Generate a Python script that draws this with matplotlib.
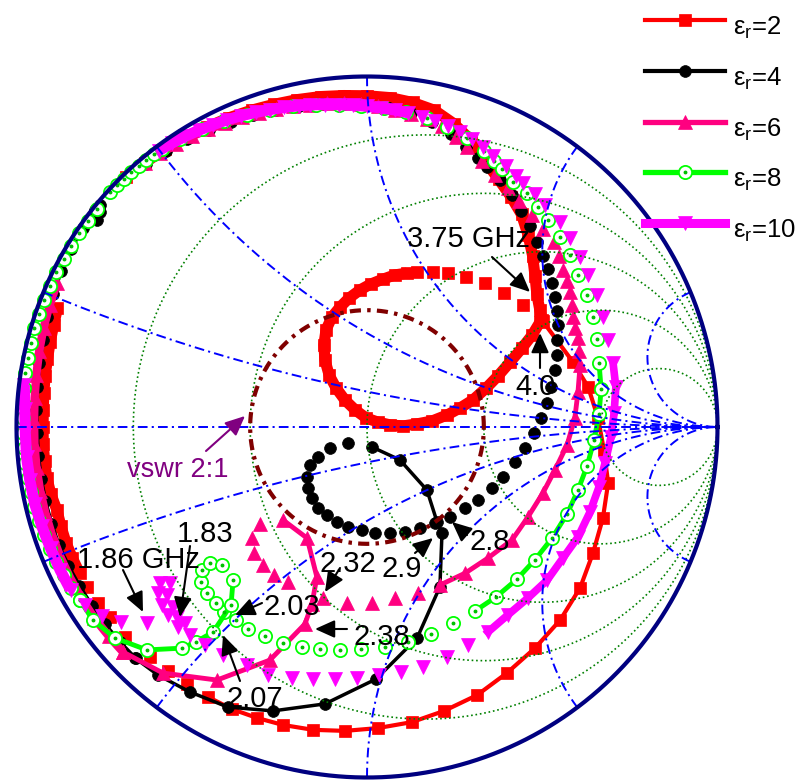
import numpy as np
import matplotlib
matplotlib.use('Agg')
import matplotlib.pyplot as plt
from matplotlib.lines import Line2D

plt.rcParams['font.family'] = ['Liberation Sans', 'DejaVu Sans']
plt.rcParams['mathtext.fontset'] = 'custom'
plt.rcParams['mathtext.rm'] = 'Liberation Sans'
plt.rcParams['mathtext.it'] = 'Liberation Sans'
plt.rcParams['lines.scale_dashes'] = False

# ---------------- data (reflection coefficient) ----------------
# eps_r = 2 (red)
red_top_ang = [134,130,126,122,118,114,110,106,102,98,94,90,86,82,78,74,70,66,62,58,54,50,46,42,38,34,31]
red_top_mag = [0.99,0.985,0.98,0.975,0.97,0.966,0.962,0.958,0.955,0.952,0.948,0.945,0.942,0.935,0.924,0.90,0.87,0.83,0.80,0.775,0.75,0.715,0.68,0.645,0.615,0.595,0.585]
red_loop_re = [0.494,0.471,0.442,0.408,0.374,0.340,0.302,0.265,0.228,0.185,0.143,0.103,0.066,0.031,-0.003,-0.034,-0.063,-0.088,-0.108,-0.120,-0.123,-0.117,-0.100,-0.077,-0.051,-0.020,0.011,0.046,0.080,0.114]
red_loop_im = [0.300,0.262,0.225,0.185,0.146,0.111,0.077,0.054,0.034,0.017,0.009,0.003,0.006,0.014,0.026,0.049,0.077,0.111,0.148,0.191,0.234,0.277,0.314,0.342,0.368,0.391,0.408,0.422,0.434,0.439]
red_sp_re = [0.143,0.188,0.231,0.282,0.337,0.391,0.445]
red_sp_im = [0.442,0.442,0.439,0.428,0.411,0.382,0.348]
red_line_re = [0.499,0.588,0.631,0.659,0.676,0.688,0.673,0.645,0.608,0.551,0.479,0.399,0.314,0.220,0.128,0.031,-0.063,-0.154,-0.240,-0.314,-0.385,-0.454]
red_line_im = [0.305,0.185,0.114,0.026,-0.066,-0.160,-0.260,-0.359,-0.459,-0.551,-0.631,-0.702,-0.765,-0.810,-0.842,-0.859,-0.867,-0.864,-0.850,-0.830,-0.805,-0.770]
red_mid_re = [-0.514,-0.568,-0.619,-0.690,-0.733,-0.767,-0.799]
red_mid_im = [-0.733,-0.696,-0.656,-0.599,-0.542,-0.502,-0.456]
red_left_ang = [207,204,201,198,195,192,189,186,183,180,177,174,171,168,165,162,159]
red_left_mag = [0.92,0.92,0.92,0.918,0.916,0.922,0.925,0.925,0.925,0.924,0.925,0.927,0.93,0.932,0.936,0.94,0.946]

# eps_r = 4 (black)
black_top_ang = [130,126,122,118,114,110,106,102,98,94,90,86,82,78,74,70.5,67.5]
black_top_mag = [0.98,0.975,0.968,0.96,0.953,0.947,0.94,0.935,0.93,0.925,0.92,0.913,0.905,0.89,0.87,0.848,0.83]
black_right_re = [0.342,0.379,0.414,0.439,0.465,0.485,0.502,0.516,0.528,0.536,0.542,0.545,0.542,0.542,0.536,0.525,0.514,0.496,0.476,0.451,0.422,0.388,0.357,0.317,0.280,0.237,0.194,0.151,0.108,0.066,0.023,-0.014,-0.054,-0.086,-0.114,-0.140,-0.157,-0.168,-0.171,-0.163,-0.140,-0.106,-0.054]
black_right_im = [0.742,0.705,0.662,0.616,0.573,0.528,0.488,0.451,0.411,0.371,0.331,0.291,0.248,0.205,0.163,0.114,0.068,0.026,-0.017,-0.060,-0.100,-0.143,-0.174,-0.208,-0.231,-0.257,-0.274,-0.288,-0.300,-0.302,-0.302,-0.294,-0.285,-0.271,-0.251,-0.231,-0.203,-0.174,-0.143,-0.108,-0.086,-0.060,-0.046]
black_line_re = [0.014,0.094,0.171,0.200,0.214,0.208,0.143,0.026,-0.120,-0.268,-0.397,-0.505,-0.596,-0.662]
black_line_im = [-0.057,-0.094,-0.180,-0.271,-0.302,-0.456,-0.602,-0.719,-0.790,-0.810,-0.799,-0.756,-0.708,-0.659]
black_left_ang = [225,221,217,213,209,205,201,197,193,189,185,181,177,173,169,165,161,157,153,149,145,141.5,140.3,141.2,142.5]
black_left_mag = [0.934,0.935,0.936,0.936,0.938,0.94,0.942,0.942,0.942,0.942,0.942,0.942,0.945,0.948,0.952,0.958,0.965,0.972,0.98,0.986,0.99,0.993,0.99,0.978,0.972]

# eps_r = 6 (pink)
pink_top_ang = [130,127,124,121,118,115,112,109,106,103,100]
pink_top_mag = [0.985,0.98,0.975,0.97,0.964,0.958,0.953,0.948,0.944,0.939,0.934]
pink_mid_ang = [97,94,91,88,85,82,79,76,73,70.3,66.5,63.1]
pink_mid_mag = [0.93,0.926,0.921,0.915,0.909,0.903,0.896,0.885,0.866,0.848,0.826,0.806]
pink_right_ang = [59.5,56,52.1,48.4,44.8,41.7,38.7,36.1,33.6,30.8,28.1,25.5,22.9,19.6]
pink_right_mag = [0.792,0.778,0.766,0.757,0.75,0.733,0.717,0.706,0.696,0.681,0.666,0.659,0.653,0.643]
pink_line_re = [0.608,0.602,0.593,0.571,0.536,0.502,0.459,0.414,0.345,0.280,0.208]
pink_line_im = [0.177,0.100,0.026,-0.051,-0.123,-0.188,-0.257,-0.322,-0.374,-0.417,-0.451]
pink_loop_re = [0.146,0.080,0.014,-0.057,-0.126,-0.225,-0.265,-0.297,-0.322,-0.328,-0.305]
pink_loop_im = [-0.474,-0.488,-0.502,-0.502,-0.488,-0.442,-0.422,-0.394,-0.359,-0.317,-0.277]
pink_line2_re = [-0.240,-0.171,-0.143,-0.157,-0.177,-0.277,-0.428,-0.582,-0.696]
pink_line2_im = [-0.265,-0.317,-0.428,-0.505,-0.562,-0.665,-0.722,-0.702,-0.642]
pink_left_ang = [222.7,219,215,211,207,203,199,195,191,187,183,179,175,171,167,163,159,155]
pink_left_mag = [0.947,0.948,0.95,0.95,0.95,0.95,0.95,0.95,0.95,0.95,0.95,0.95,0.952,0.955,0.96,0.965,0.97,0.975]

# eps_r = 8 (green)
green_top_ang = [137.6,136,134.4,132.8,131.2,129.6,128,126.4,123,119,115,111,107,103,99,95,91,87,83,79,75,71,67,64.5,62.3,59.2,55.6,52.1,48.8,44.6,40.3,35.8,31,26,20.9]
green_top_mag = [0.993,0.992,0.991,0.99,0.989,0.988,0.987,0.985,0.98,0.972,0.964,0.955,0.947,0.939,0.93,0.923,0.917,0.91,0.905,0.897,0.886,0.872,0.855,0.84,0.83,0.814,0.809,0.795,0.785,0.773,0.759,0.742,0.732,0.717,0.703]
green_line_re = [0.662,0.668,0.662,0.648,0.628,0.602,0.571,0.528,0.479,0.428,0.368,0.308]
green_line_im = [0.183,0.108,0.037,-0.037,-0.111,-0.180,-0.248,-0.317,-0.379,-0.434,-0.485,-0.525]
green_loop_re = [0.245,0.183,0.117,0.051,-0.017,-0.077,-0.134,-0.185,-0.240,-0.291,-0.340,-0.374,-0.408,-0.431,-0.456,-0.474,-0.471,-0.448,-0.414]
green_loop_im = [-0.559,-0.591,-0.613,-0.628,-0.633,-0.636,-0.633,-0.628,-0.616,-0.596,-0.576,-0.551,-0.528,-0.502,-0.474,-0.442,-0.408,-0.388,-0.394]
green_line2_re = [-0.382,-0.388,-0.439,-0.488,-0.528,-0.628,-0.719,-0.782,-0.819]
green_line2_im = [-0.437,-0.508,-0.585,-0.613,-0.631,-0.636,-0.602,-0.551,-0.494]
green_left_ang = [211,208.5,206,203.5,201,198.5,196,193.5,191,188.5,186,183.5,181,178.5,176,173.5,171,168.5,166,163.5,161,158.5,156,153.5,151,148.5,146,143.5,141]
green_left_mag = [0.956,0.96,0.963,0.966,0.969,0.972,0.975,0.977,0.978,0.979,0.98,0.981,0.982,0.983,0.985,0.986,0.987,0.988,0.989,0.99,0.99,0.99,0.99,0.99,0.99,0.99,0.99,0.99,0.99]

# eps_r = 10 (magenta)
mag_top_ang = [127,124.5,122,119.5,117,114.5,112,109.5,107,104.5,102,100,97.5,95,92.5,90,87.5,85,82.5]
mag_top_mag = [0.987,0.983,0.978,0.973,0.968,0.963,0.958,0.952,0.947,0.942,0.937,0.933,0.928,0.923,0.919,0.915,0.911,0.908,0.904]
mag_mid_ang = [80,77.5,75,72.5,70,67.5,65]
mag_mid_mag = [0.899,0.894,0.889,0.882,0.874,0.864,0.852]
mag_right_ang = [62,59.3,57.4,54.3,51.3,46.7,43,38.6,34.5,29.9,25,19.9]
mag_right_mag = [0.842,0.833,0.826,0.819,0.812,0.803,0.791,0.777,0.765,0.757,0.743,0.731]
mag_line_re = [0.702,0.710,0.705,0.696,0.679,0.662,0.636,0.602,0.559,0.514,0.459,0.402,0.345]
mag_line_im = [0.183,0.114,0.040,-0.029,-0.103,-0.171,-0.243,-0.314,-0.374,-0.437,-0.488,-0.536,-0.585]
mag_row_re = [0.288,0.228,0.160,0.097,0.034,-0.029,-0.091,-0.154,-0.214,-0.282,-0.342,-0.411,-0.462,-0.505,-0.539]
mag_row_im = [-0.622,-0.656,-0.685,-0.699,-0.708,-0.716,-0.719,-0.719,-0.716,-0.708,-0.679,-0.650,-0.622,-0.593,-0.571]
mag_cluster_re = [-0.519,-0.542,-0.568,-0.553,-0.585,-0.571,-0.596,-0.562,-0.591,-0.628]
mag_cluster_im = [-0.559,-0.542,-0.536,-0.514,-0.508,-0.479,-0.474,-0.445,-0.445,-0.559]
mag_left_ang = [218.5,215.5,212.3,208.8,205,201,197,193,189,185,181,177,173]
mag_left_mag = [0.895,0.93,0.951,0.965,0.966,0.967,0.97,0.973,0.974,0.975,0.975,0.978,0.985]

legend_labels = [r'$\varepsilon_\mathrm{r}$=2', r'$\varepsilon_\mathrm{r}$=4', r'$\varepsilon_\mathrm{r}$=6',
                 r'$\varepsilon_\mathrm{r}$=8', r'$\varepsilon_\mathrm{r}$=10']
r_grid = [0.2, 0.5, 1, 2, 5]
x_grid = [0.2, 0.5, 1, 2, 5]
vswr = 2.0

# ---------------- figure ----------------
W, H = 808, 782
fig = plt.figure(figsize=(W / 100, H / 100), dpi=100)
ax = fig.add_axes([16.5 / W, 4.5 / H, 701 / W, 701 / H])
ax.set_xlim(-1, 1)
ax.set_ylim(-1, 1)
ax.axis('off')


def P(ang, mag):
    a = np.radians(ang)
    m = np.asarray(mag)
    return m * np.cos(a), m * np.sin(a)


RED, BLACK, PINK, GREEN, MAGENTA = '#FF0000', '#000000', '#FF0080', '#00FF00', '#FF00FF'
styles = {
    'red': dict(color=RED, marker='s', ms=8, mfc=RED, mec=RED, mew=0.5),
    'black': dict(color=BLACK, marker='o', ms=8.5, mfc=BLACK, mec=BLACK, mew=0.5),
    'pink': dict(color=PINK, marker='^', ms=10, mfc=PINK, mec=PINK, mew=0.5),
    'green': dict(color=GREEN, marker='o', ms=9.5, mfc='white', mec=GREEN, mew=1.3),
    'mag': dict(color=MAGENTA, marker='v', ms=10, mfc=MAGENTA, mec=MAGENTA, mew=0.5),
}
zo = {'red': 3.0, 'black': 3.2, 'pink': 3.4, 'green': 3.6, 'mag': 3.8}


def pts(re, im, s):
    ax.plot(re, im, ls='none', clip_on=False, zorder=zo[s], **styles[s])
    if s == 'green':
        ax.plot(re, im, ls='none', marker='o', ms=1.8, color='#00C000', clip_on=False, zorder=zo[s] + 0.05)


def line(re, im, s, lw):
    ax.plot(re, im, ls='-', lw=lw, clip_on=False, zorder=zo[s], solid_joinstyle='round', **styles[s])
    if s == 'green':
        ax.plot(re, im, ls='none', marker='o', ms=1.8, color='#00C000', clip_on=False, zorder=zo[s] + 0.05)


def band(re, im, s, lw):
    ax.plot(re, im, ls='-', lw=lw, color=styles[s]['color'], clip_on=False, zorder=zo[s],
            solid_joinstyle='round', solid_capstyle='butt')
    pts(re, im, s)


# red
band(*P(red_top_ang, red_top_mag), 'red', 8)
band(red_loop_re, red_loop_im, 'red', 8)
pts(red_sp_re, red_sp_im, 'red')
line(red_line_re, red_line_im, 'red', 3)
pts(red_mid_re, red_mid_im, 'red')
band(*P(red_left_ang, red_left_mag), 'red', 8)

# black
pts(*P(black_top_ang, black_top_mag), 'black')
pts(black_right_re, black_right_im, 'black')
line(black_line_re, black_line_im, 'black', 2.5)
line(*P(black_left_ang, black_left_mag), 'black', 3)

# pink
band(*P(pink_top_ang, pink_top_mag), 'pink', 7)
pts(*P(pink_mid_ang, pink_mid_mag), 'pink')
pts(*P(pink_right_ang, pink_right_mag), 'pink')
line(pink_line_re, pink_line_im, 'pink', 3.5)
pts(pink_loop_re, pink_loop_im, 'pink')
line(pink_line2_re, pink_line2_im, 'pink', 3.5)
band(*P(pink_left_ang, pink_left_mag), 'pink', 6)

# green
pts(*P(green_top_ang, green_top_mag), 'green')
line(green_line_re, green_line_im, 'green', 3.5)
pts(green_loop_re, green_loop_im, 'green')
line(green_line2_re, green_line2_im, 'green', 3.5)
pts(*P(green_left_ang, green_left_mag), 'green')

# magenta
band(*P(mag_top_ang, mag_top_mag), 'mag', 8)
pts(*P(mag_mid_ang, mag_mid_mag), 'mag')
pts(*P(mag_right_ang, mag_right_mag), 'mag')
line(mag_line_re, mag_line_im, 'mag', 5.5)
pts(mag_row_re, mag_row_im, 'mag')
pts(mag_cluster_re, mag_cluster_im, 'mag')
mlr, mli = P(mag_left_ang, mag_left_mag)
band(mlr[3:], mli[3:], 'mag', 8)
pts(mlr[:3], mli[:3], 'mag')

# ---------------- Smith grid ----------------
t = np.linspace(0, 2 * np.pi, 1000)
for r in r_grid:
    c, rad = r / (1 + r), 1 / (1 + r)
    ax.plot(c + rad * np.cos(t), rad * np.sin(t), color='#008000', lw=1.2,
            ls=(0, (1.2, 2.0)), zorder=5, clip_on=False)
rr = np.concatenate([[0.0], np.logspace(-3, 4, 1500)])
for xv in x_grid:
    for sgn in (1, -1):
        z = rr + 1j * sgn * xv
        g = (z - 1) / (z + 1)
        ax.plot(g.real, g.imag, color='#0000FF', lw=1.4, ls=(0, (7, 3, 1.5, 3)), zorder=5, clip_on=False)
ax.plot([-1, 1], [0, 0], color='#0000FF', lw=1.4, ls=(0, (7, 3, 1.5, 3)), zorder=5)
gv = (vswr - 1) / (vswr + 1)
ax.plot(gv * np.cos(t), gv * np.sin(t), color='#800000', lw=3, ls=(0, (8, 4.5, 2.5, 4.5)), zorder=5.5)
ax.plot(np.cos(t), np.sin(t), color='#000080', lw=3, zorder=6, clip_on=False)


# ---------------- annotations ----------------
def g(x, y):
    return ((x - 367) / 350.5, (427 - y) / 350.5)


def arrow(tail, tip, color='k'):
    ax.annotate('', xy=g(*tip), xytext=g(*tail), annotation_clip=False,
                arrowprops=dict(arrowstyle='-|>,head_length=0.6,head_width=0.27', color=color, lw=1.5,
                                shrinkA=0, shrinkB=0, mutation_scale=20), zorder=10)


def label(x, y, s, color='k', size=21):
    fig.text(x / W, 1 - y / H, s, ha='center', va='baseline', fontsize=size, color=color, zorder=11)


arrow((492, 257), (530, 292)); label(469, 247, '3.75 GHz')
arrow((540, 368), (540, 333)); label(535, 395, '4.0')
arrow((206, 451), (245, 416), '#800080'); label(178, 477, 'vswr 2:1', '#800080', 19.5)
arrow((123, 570), (143, 612)); label(138, 568, '1.86 GHz')
arrow((190, 546), (180, 617)); label(205, 542, '1.83')
arrow((262, 603), (235, 615)); label(292, 615, '2.03')
arrow((240, 681), (223, 635)); label(255, 707, '2.07')
arrow((340, 568), (325, 592)); label(348, 572, '2.32')
arrow((347, 629), (315, 629)); label(382, 645, '2.38')
arrow((415, 553), (433, 538)); label(402, 577, '2.9')
arrow((467, 535), (452, 522)); label(490, 550, '2.8')

# ---------------- legend ----------------
leg_y = [20, 70.5, 121.5, 172, 223]
leg_keys = ['red', 'black', 'pink', 'green', 'mag']
leg_lw = [3, 3, 3.8, 3.8, 6.5]
for yy, k, lw_, lab in zip(leg_y, leg_keys, leg_lw, legend_labels):
    yf = 1 - yy / H
    fig.add_artist(Line2D([645 / W, 725 / W], [yf, yf], color=styles[k]['color'], lw=lw_,
                          transform=fig.transFigure))
    st = dict(styles[k])
    st.pop('color')
    fig.add_artist(Line2D([685 / W], [yf], ls='none', transform=fig.transFigure, color=styles[k]['color'], **st))
    if k == 'green':
        fig.add_artist(Line2D([685 / W], [yf], ls='none', marker='o', ms=1.8, color='#00C000',
                              transform=fig.transFigure))
    fig.text(733 / W, 1 - (yy + 15) / H, lab, ha='left', va='baseline', fontsize=18.5)

fig.savefig('out.png', dpi=100)
